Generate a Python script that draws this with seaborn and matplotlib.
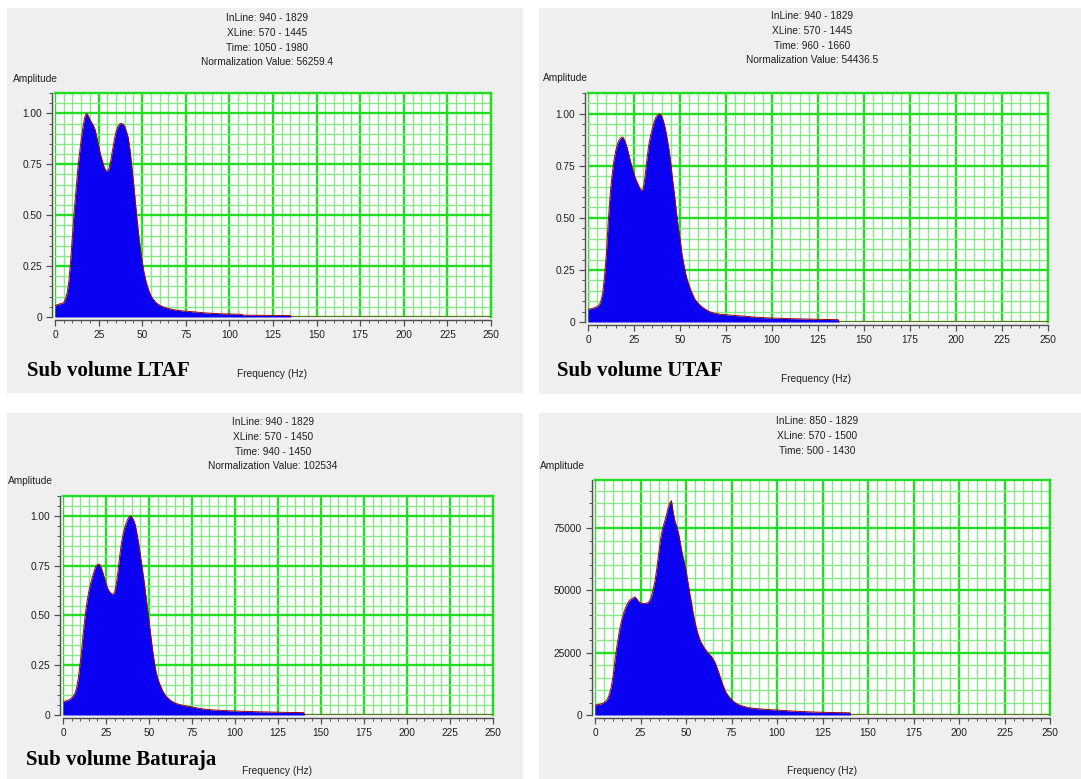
import matplotlib
matplotlib.use("Agg")
import matplotlib.pyplot as plt
from matplotlib.patches import Rectangle
from matplotlib.ticker import MultipleLocator, FuncFormatter
import seaborn as sns

# ---- data ----
ltaf_freq = [0, 1, 3, 5, 6, 7, 8, 9, 10, 11, 12, 13, 14, 15, 16, 17, 18, 19, 20,
             21, 22, 23, 24, 25, 26, 27, 28, 29, 30, 31, 32, 33, 34, 35, 36, 37,
             38, 39, 40, 41, 42, 43, 44, 45, 46, 47, 48, 49, 50, 51, 52, 53, 54,
             55, 56, 58, 60, 62, 65, 68, 72, 76, 80, 85, 90, 95, 100, 107, 108,
             120, 135, 135.5, 250]
ltaf_amp = [0.055, 0.06, 0.065, 0.07, 0.09, 0.12, 0.18, 0.28, 0.40, 0.52, 0.62,
            0.72, 0.80, 0.87, 0.93, 0.98, 1.0, 0.99, 0.97, 0.955, 0.94, 0.92,
            0.88, 0.84, 0.80, 0.77, 0.74, 0.72, 0.715, 0.73, 0.77, 0.82, 0.87,
            0.91, 0.935, 0.948, 0.95, 0.948, 0.935, 0.91, 0.88, 0.82, 0.74, 0.66,
            0.57, 0.48, 0.40, 0.33, 0.27, 0.22, 0.18, 0.15, 0.125, 0.105, 0.09,
            0.07, 0.058, 0.05, 0.042, 0.036, 0.031, 0.028, 0.025, 0.021, 0.018,
            0.016, 0.015, 0.013, 0.009, 0.008, 0.007, 0, 0]

utaf_freq = [0, 2, 4, 6, 7, 8, 9, 10, 11, 12, 13, 14, 15, 16, 17, 18, 19, 20, 21,
             22, 23, 24, 25, 26, 27, 28, 29, 30, 31, 32, 33, 34, 35, 36, 37, 38,
             39, 40, 41, 42, 43, 44, 45, 46, 47, 48, 49, 50, 51, 52, 53, 54, 55,
             56, 58, 60, 62, 64, 66, 68, 72, 76, 80, 85, 90, 95, 100, 110, 120,
             130, 136, 136.5, 250]
utaf_amp = [0.06, 0.065, 0.07, 0.08, 0.10, 0.14, 0.22, 0.33, 0.48, 0.61, 0.70,
            0.77, 0.82, 0.855, 0.875, 0.885, 0.888, 0.87, 0.845, 0.81, 0.775,
            0.74, 0.71, 0.685, 0.665, 0.645, 0.632, 0.64, 0.70, 0.78, 0.85, 0.895,
            0.93, 0.965, 0.985, 0.995, 1.0, 0.99, 0.965, 0.93, 0.88, 0.83, 0.76,
            0.68, 0.61, 0.53, 0.46, 0.40, 0.33, 0.28, 0.235, 0.20, 0.175, 0.15,
            0.11, 0.088, 0.072, 0.06, 0.05, 0.044, 0.037, 0.034, 0.031, 0.028,
            0.024, 0.021, 0.019, 0.016, 0.014, 0.012, 0.011, 0, 0]

batu_freq = [0, 2, 4, 6, 7, 8, 9, 10, 11, 12, 13, 14, 15, 16, 17, 18, 19, 20, 21,
             22, 23, 24, 25, 26, 27, 28, 29, 30, 31, 32, 33, 34, 35, 36, 37, 38,
             39, 40, 41, 42, 43, 44, 45, 46, 47, 48, 49, 50, 51, 52, 53, 54, 55,
             56, 58, 60, 63, 66, 70, 74, 80, 85, 90, 100, 110, 120, 130, 140,
             140.5, 250]
batu_amp = [0.065, 0.072, 0.078, 0.095, 0.11, 0.14, 0.19, 0.26, 0.34, 0.43, 0.51,
            0.57, 0.62, 0.66, 0.69, 0.72, 0.745, 0.755, 0.758, 0.745, 0.72, 0.69,
            0.66, 0.635, 0.62, 0.61, 0.607, 0.615, 0.66, 0.725, 0.80, 0.865, 0.91,
            0.945, 0.97, 0.99, 1.0, 0.995, 0.98, 0.955, 0.91, 0.86, 0.80, 0.74,
            0.68, 0.61, 0.54, 0.47, 0.40, 0.33, 0.27, 0.22, 0.185, 0.16, 0.12,
            0.093, 0.07, 0.057, 0.048, 0.042, 0.032, 0.027, 0.024, 0.02, 0.017,
            0.015, 0.013, 0.012, 0, 0]

full_freq = [0, 2, 4, 6, 7, 8, 9, 10, 11, 12, 13, 14, 15, 16, 17, 18, 19, 20, 21,
             22, 23, 24, 25, 26, 27, 28, 29, 30, 31, 32, 33, 34, 35, 36, 37, 38,
             39, 40, 41, 42, 43, 44, 45, 46, 47, 48, 49, 50, 51, 52, 53, 54, 55,
             56, 57, 58, 60, 62, 64, 66, 68, 70, 72, 74, 76, 78, 80, 84, 88, 95,
             100, 110, 120, 130, 140, 140.5, 250]
full_amp = [4000, 4200, 4600, 5500, 6700, 8500, 11500, 16000, 22000, 27500,
            32000, 36000, 39000, 41500, 43500, 45000, 46000, 46500, 47000, 47400,
            46500, 45500, 45000, 44800, 44700, 44800, 45000, 45800, 47500, 50500,
            54000, 59000, 65000, 70500, 74500, 77000, 79500, 82500, 85000, 86000,
            81000, 77500, 75500, 72500, 68500, 64500, 61500, 58000, 53500, 49000,
            45000, 40500, 37000, 34000, 31500, 29500, 27000, 25000, 23500, 21000,
            17000, 12500, 9000, 7000, 5500, 4500, 3800, 3000, 2600, 2200, 2000,
            1500, 1200, 1000, 900, 0, 0]

headers = [
    ["InLine: 940 - 1829", "XLine: 570 - 1445", "Time: 1050 - 1980",
     "Normalization Value: 56259.4"],
    ["InLine: 940 - 1829", "XLine: 570 - 1445", "Time: 960 - 1660",
     "Normalization Value: 54436.5"],
    ["InLine: 940 - 1829", "XLine: 570 - 1450", "Time: 940 - 1450",
     "Normalization Value: 102534"],
    ["InLine: 850 - 1829", "XLine: 570 - 1500", "Time: 500 - 1430"],
]
captions = ["Sub volume LTAF", "Sub volume UTAF", "Sub volume Baturaja", ""]

W, H = 1081, 779
PANEL_BG = "#efefef"
BLUE = "#0a00f2"
EDGE = "#a00010"
GREEN_MAJOR = "#22dd22"
GREEN_MINOR = "#88e888"
SMALL = 7.3

sns.set_style("white")
plt.rcParams["font.family"] = ["Liberation Sans", "DejaVu Sans"]

fig = plt.figure(figsize=(W / 100, H / 100), dpi=100)
fig.patch.set_facecolor("white")


def fx(x):
    return x / W


def fy(y):
    return 1 - y / H


# grey panel backgrounds (pixel boxes: x0, y0, x1, y1)
for x0, y0, x1, y1 in [(7, 8, 523, 393), (539, 8, 1081, 394),
                       (7, 413, 523, 779), (539, 413, 1081, 779)]:
    fig.patches.append(Rectangle((fx(x0), fy(y1)), (x1 - x0) / W, (y1 - y0) / H,
                                 transform=fig.transFigure, facecolor=PANEL_BG,
                                 edgecolor="none", zorder=-5))


def draw_panel(box, freq, amp, ymax, ymajor, yminor, fmt, header, head_xy,
               amp_xy, caption, cap_xy, freq_xy):
    x0, y0, x1, y1 = box
    ax = fig.add_axes([fx(x0), fy(y1), (x1 - x0) / W, (y1 - y0) / H])
    ax.set_zorder(2)
    ax.set_facecolor("white")
    ax.set_axisbelow(True)

    ax.fill_between(freq, amp, 0, color=BLUE, linewidth=0, zorder=2)
    sns.lineplot(x=freq, y=amp, ax=ax, color=EDGE, linewidth=0.7,
                 estimator=None, sort=False, zorder=3)
    ax.set_xlabel("")
    ax.set_ylabel("")

    ax.set_xlim(0, 250)
    ax.set_ylim(0, ymax)
    ax.xaxis.set_major_locator(MultipleLocator(25))
    ax.xaxis.set_minor_locator(MultipleLocator(5))
    ax.yaxis.set_major_locator(MultipleLocator(ymajor))
    ax.yaxis.set_minor_locator(MultipleLocator(yminor))
    ax.yaxis.set_major_formatter(FuncFormatter(fmt))

    ax.grid(which="minor", color=GREEN_MINOR, linewidth=1.0)
    ax.grid(which="major", color=GREEN_MAJOR, linewidth=1.7)

    for side in ["top", "right"]:
        ax.spines[side].set_color(GREEN_MAJOR)
        ax.spines[side].set_linewidth(1.7)
    for side in ["left", "bottom"]:
        ax.spines[side].set_color("#505050")
        ax.spines[side].set_linewidth(1.0)
        ax.spines[side].set_position(("outward", 2.5))

    ax.tick_params(which="major", direction="out", length=4, width=0.9,
                   color="#505050", labelsize=SMALL, labelcolor="#202020", pad=3,
                   left=True, bottom=True)
    ax.tick_params(which="minor", direction="out", length=2.2, width=0.7,
                   color="#505050", left=True, bottom=True)

    hx, hy = head_xy
    for i, line in enumerate(header):
        fig.text(fx(hx), fy(hy + i * 14.8), line, ha="center", va="center",
                 fontsize=SMALL, color="#202020")
    fig.text(fx(amp_xy[0]), fy(amp_xy[1]), "Amplitude", ha="left", va="center",
             fontsize=SMALL, color="#202020")
    fig.text(fx(freq_xy[0]), fy(freq_xy[1]), "Frequency (Hz)", ha="center",
             va="center", fontsize=SMALL, color="#202020")
    if caption:
        fig.text(fx(cap_xy[0]), fy(cap_xy[1]), caption, ha="left", va="center",
                 fontsize=15, fontweight="bold", family="Liberation Serif",
                 color="black")
    return ax


def norm_fmt(v, pos):
    return "0" if abs(v) < 1e-9 else f"{v:.2f}"


def int_fmt(v, pos):
    return f"{int(round(v))}"


draw_panel((55, 93, 491, 317), ltaf_freq, ltaf_amp, 1.1, 0.25, 0.05, norm_fmt,
           headers[0], (267, 18), (13, 79), captions[0], (27, 371), (272, 374))
draw_panel((588, 93, 1048, 322), utaf_freq, utaf_amp, 1.1, 0.25, 0.05, norm_fmt,
           headers[1], (812, 16), (543, 78), captions[1], (557, 371), (816, 379))
draw_panel((63, 496, 493, 715), batu_freq, batu_amp, 1.1, 0.25, 0.05, norm_fmt,
           headers[2], (273, 422), (8, 481), captions[2], (26, 760), (277, 771))
draw_panel((595, 480, 1050, 715), full_freq, full_amp, 94300, 25000, 5000,
           int_fmt, headers[3], (817, 421), (540, 466), captions[3], (0, 0),
           (822, 771))

fig.savefig("out.png", dpi=100, facecolor="white")
